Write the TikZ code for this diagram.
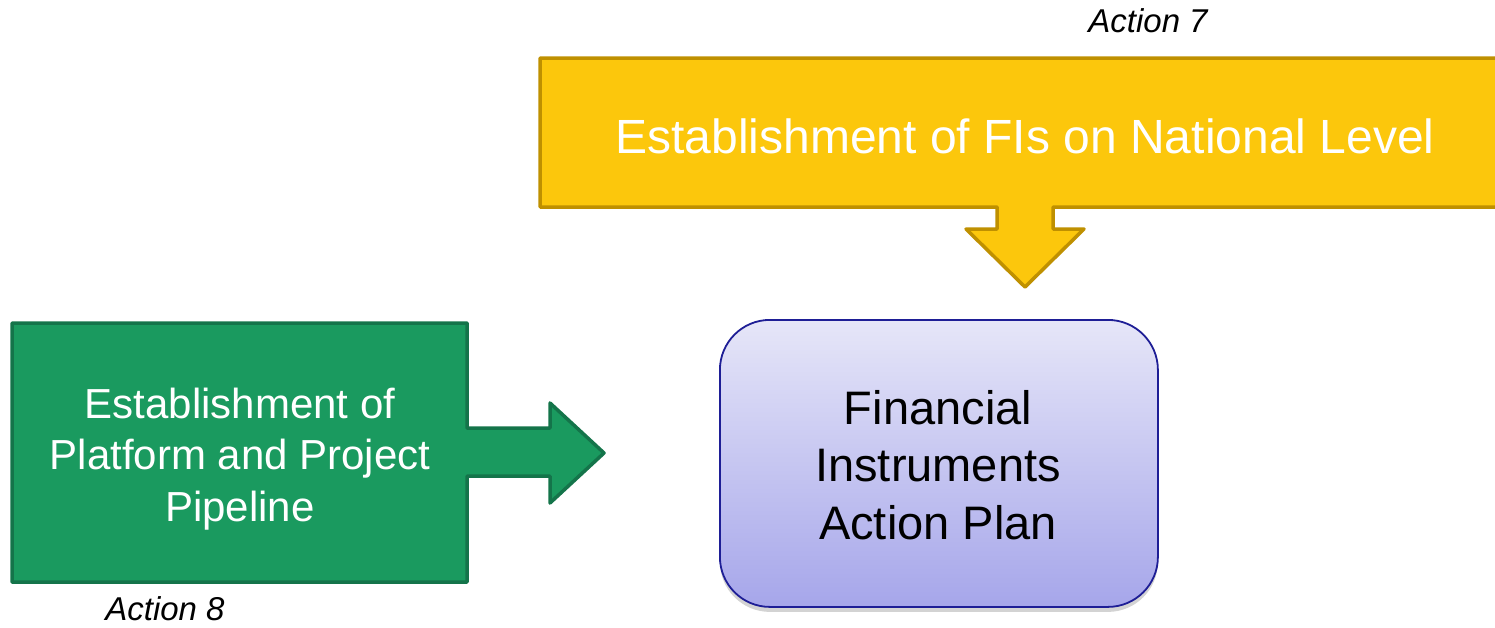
\documentclass[tikz,border=0pt]{standalone}
\usepackage{fontspec}
\setmainfont{Liberation Sans}
\usetikzlibrary{shadows}
\definecolor{yfill}{HTML}{FCC70C}
\definecolor{yline}{HTML}{BF9000}
\definecolor{gfill}{HTML}{1A9A5F}
\definecolor{gline}{HTML}{14744A}
\definecolor{btop}{HTML}{E6E6F8}
\definecolor{bbot}{HTML}{A6A6EA}
\definecolor{bline}{HTML}{1E1E96}
\tikzset{
  yellowshape/.style={fill=yfill, draw=yline, line width=3.5pt, line join=round},
  greenshape/.style={fill=gfill, draw=gline, line width=3.5pt, line join=round},
  planbox/.style={draw=bline, line width=1.8pt, rounded corners=50pt, top color=btop, bottom color=bbot,
    drop shadow={opacity=0.35, shadow xshift=0pt, shadow yshift=-5pt}},
  whitetext/.style={text=white, align=center, inner sep=0pt},
  actionlabel/.style={font=\fontsize{33}{38}\selectfont\itshape, inner sep=0pt, anchor=base}
}
\begin{document}
\begin{tikzpicture}[x=1pt,y=-1pt]
\useasboundingbox (0,0) rectangle (1495,627);
% yellow callout
\draw[yellowshape] (540,58) -- (1510,58) -- (1510,207) -- (1053,207) -- (1053,229) -- (1084,229)
  -- (1025,287) coordinate (ytip) -- (966,229) -- (997,229) -- (997,207) -- (540,207) -- cycle;
\node[whitetext, anchor=base, font=\fontsize{48}{58}\selectfont] (ytext) at (1025,153) {Establishment of FIs on National Level};
% green callout
\draw[greenshape] (12,323) -- (467,323) -- (467,428) -- (550,428) -- (550,403) -- (604,453) coordinate (gtip)
  -- (550,503) -- (550,476) -- (467,476) -- (467,582) -- (12,582) -- cycle;
\node[whitetext, anchor=base, font=\fontsize{42}{51.5}\selectfont] (gtext) at (240,521) {Establishment of\\Platform and Project\\Pipeline};
% blue box
\node[planbox, minimum width=438pt, minimum height=287pt, anchor=north west] (plan) at (719,319) {};
\node[align=center, anchor=base, inner sep=0pt, font=\fontsize{47}{57.5}\selectfont] (ptext) at (938,539) {Financial\\Instruments\\Action Plan};
% labels
\node[actionlabel] (a7) at (1148,32) {Action 7};
\node[actionlabel] (a8) at (165,620) {Action 8};
\end{tikzpicture}
\end{document}
